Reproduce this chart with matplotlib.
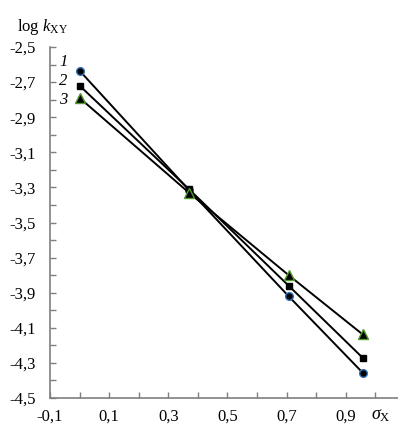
import matplotlib
matplotlib.use("Agg")
import matplotlib.pyplot as plt
import numpy as np

plt.rcParams['font.family'] = ['Liberation Serif', 'DejaVu Serif']
plt.rcParams['mathtext.fontset'] = 'custom'
plt.rcParams['mathtext.rm'] = 'Liberation Serif'
plt.rcParams['mathtext.it'] = 'Liberation Serif:italic'

sigma = [0.0, 0.37, 0.707, 0.957]
logk1 = [-2.635, -3.315, -3.92, -4.355]
logk2 = [-2.72, -3.31, -3.86, -4.27]
logk3 = [-2.79, -3.33, -3.80, -4.137]
series_labels = ['1', '2', '3']
xticks = [-0.1, 0.1, 0.3, 0.5, 0.7, 0.9]
yticks = [-4.5, -4.3, -4.1, -3.9, -3.7, -3.5, -3.3, -3.1, -2.9, -2.7, -2.5]

fig = plt.figure(figsize=(3.98, 4.26), dpi=100)
ax = fig.add_axes([50/398, 28/426, 1 - 50/398, (398-47)/426])

styles = [
    dict(marker='o', mfc='black', mec='#2e6fb5', ms=5.5),
    dict(marker='s', mfc='black', mec='black', ms=5),
    dict(marker='^', mfc='black', mec='#4f9a2a', ms=6.5),
]
for ys, st in zip([logk1, logk2, logk3], styles):
    ax.plot(sigma, ys, color='black', lw=1.4, mew=1, **st, zorder=3)

label_y = [-2.585, -2.694, -2.80]
for lab, ly in zip(series_labels, label_y):
    ax.text(-0.04, ly, lab, fontsize=12, style='italic',
            ha='right', va='center')

ax.set_xlim(-0.1, 1.077)
ax.set_ylim(-4.5, -2.5)
ax.set_xticks(xticks)
ax.set_xticklabels([f"{v:.1f}".replace('.', ',') for v in xticks])
ax.set_xticks(np.round(np.arange(-0.1, 1.05, 0.1), 2), minor=True)
ax.set_yticks(yticks)
ax.set_yticklabels([f"{v:.1f}".replace('.', ',') for v in yticks])
ax.set_yticks(np.round(np.arange(-4.5, -2.45, 0.1), 2), minor=True)

for s in ['top', 'right']:
    ax.spines[s].set_visible(False)
for s in ['left', 'bottom']:
    ax.spines[s].set_color('#7f7f7f')
    ax.spines[s].set_linewidth(1.2)
ax.tick_params(which='both', direction='in', color='#7f7f7f', width=1, labelsize=12)
ax.tick_params(which='major', length=4)
ax.tick_params(which='minor', length=4)
ax.tick_params(axis='x', pad=7.5)
ax.tick_params(axis='y', pad=10)

fig.text(17/398, 1 - 27/426, r'log $k_{\mathrm{XY}}$', fontsize=12, ha='left', va='center')
fig.text(371/398, 1 - 416/426, r'$\sigma_{\mathrm{X}}$', fontsize=13, ha='left', va='center')

fig.savefig('out.png', dpi=100)
